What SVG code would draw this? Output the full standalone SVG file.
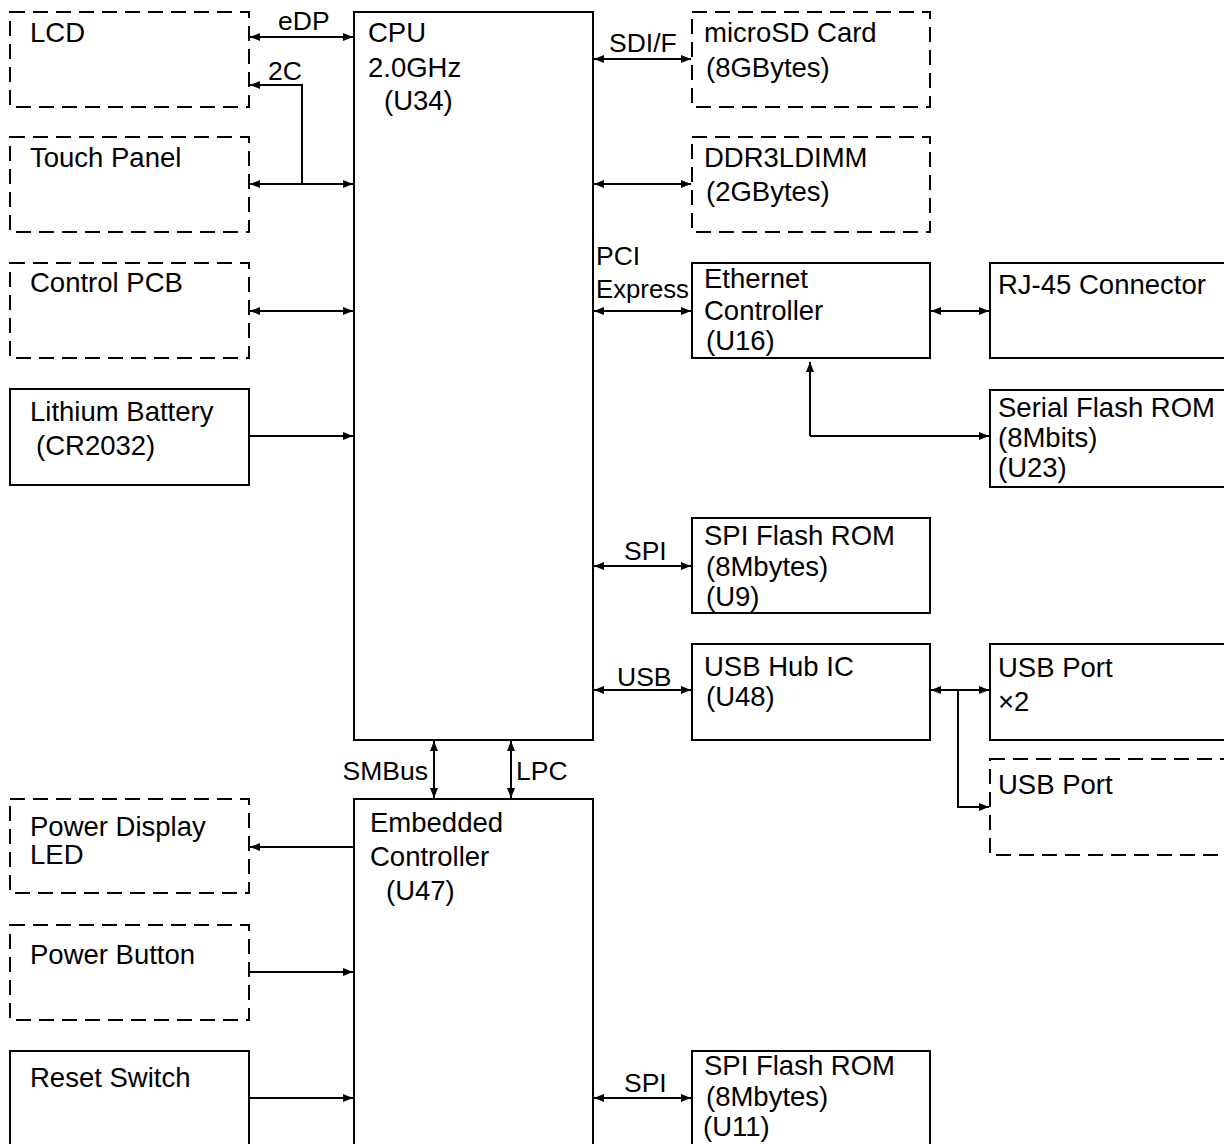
<svg xmlns="http://www.w3.org/2000/svg" width="1224" height="1144" viewBox="0 0 1224 1144">
<style>
text{font-family:"Liberation Sans",Arial,sans-serif;font-size:27.5px;fill:#000}
.lb{font-size:26.5px}
.box{fill:#fff;stroke:#000;stroke-width:2}
.dash{fill:#fff;stroke:#000;stroke-width:2;stroke-dasharray:15 8}
.ln{fill:none;stroke:#000;stroke-width:2}
.bi{marker-start:url(#ah);marker-end:url(#ah)}
.one{marker-end:url(#ah)}
</style>
<defs>
<marker id="ah" markerUnits="userSpaceOnUse" markerWidth="10" markerHeight="8" refX="10" refY="4" orient="auto-start-reverse"><path d="M0,0 L10,4 L0,8 z" fill="#000"/></marker>
</defs>
<rect width="1224" height="1144" fill="#fff"/>
<g id="connectors">
<line class="ln bi" x1="250" y1="37" x2="353" y2="37"/>
<polyline class="ln one" points="302,184 302,85 250,85"/>
<line class="ln bi" x1="250" y1="184" x2="353" y2="184"/>
<line class="ln bi" x1="250" y1="311" x2="353" y2="311"/>
<line class="ln one" x1="249" y1="436" x2="353" y2="436"/>
<line class="ln bi" x1="594" y1="59" x2="691" y2="59"/>
<line class="ln bi" x1="594" y1="184" x2="691" y2="184"/>
<line class="ln bi" x1="594" y1="311" x2="691" y2="311"/>
<line class="ln bi" x1="931" y1="311" x2="989" y2="311"/>
<polyline class="ln one" points="810,436 810,362"/>
<polyline class="ln one" points="810,436 989,436"/>
<line class="ln bi" x1="594" y1="566" x2="691" y2="566"/>
<line class="ln bi" x1="594" y1="690" x2="691" y2="690"/>
<line class="ln bi" x1="931" y1="690" x2="989" y2="690"/>
<polyline class="ln one" points="958,690 958,807 989,807"/>
<line class="ln bi" x1="434" y1="741" x2="434" y2="798"/>
<line class="ln bi" x1="511" y1="741" x2="511" y2="798"/>
<line class="ln one" x1="354" y1="847" x2="250" y2="847"/>
<line class="ln one" x1="249" y1="972" x2="353" y2="972"/>
<line class="ln one" x1="249" y1="1098" x2="353" y2="1098"/>
<line class="ln bi" x1="594" y1="1098" x2="691" y2="1098"/>
<text class="lb" x="278" y="30">eDP</text>
<text class="lb" x="268" y="80">2C</text>
<text class="lb" x="609" y="52">SDI/F</text>
<text class="lb" x="596" y="265">PCI</text>
<text class="lb" x="596" y="298" textLength="93" lengthAdjust="spacingAndGlyphs">Express</text>
<text class="lb" x="624" y="560">SPI</text>
<text class="lb" x="617" y="686">USB</text>
<text class="lb" x="428" y="780" text-anchor="end">SMBus</text>
<text class="lb" x="516" y="780">LPC</text>
<text class="lb" x="624" y="1092">SPI</text>
</g>
<g id="lcd"><rect class="dash" x="10" y="12" width="239" height="95"/><text x="30" y="42">LCD</text></g>
<g id="touch"><rect class="dash" x="10" y="137" width="239" height="95"/><text x="30" y="167">Touch Panel</text></g>
<g id="ctrlpcb"><rect class="dash" x="10" y="263" width="239" height="95"/><text x="30" y="292">Control PCB</text></g>
<g id="battery"><rect class="box" x="10" y="389" width="239" height="96"/><text x="30" y="421">Lithium Battery</text><text x="36" y="455">(CR2032)</text></g>
<g id="cpu"><rect class="box" x="354" y="12" width="239" height="728"/><text x="368" y="42">CPU</text><text x="368" y="77">2.0GHz</text><text x="384" y="110">(U34)</text></g>
<g id="pled"><rect class="dash" x="10" y="799" width="239" height="94"/><text x="30" y="836">Power Display</text><text x="30" y="864">LED</text></g>
<g id="pbtn"><rect class="dash" x="10" y="925" width="239" height="95"/><text x="30" y="964">Power Button</text></g>
<g id="reset"><rect class="box" x="10" y="1051" width="239" height="110"/><text x="30" y="1087">Reset Switch</text></g>
<g id="ec"><rect class="box" x="354" y="799" width="239" height="362"/><text x="370" y="832">Embedded</text><text x="370" y="866">Controller</text><text x="386" y="900">(U47)</text></g>
<g id="microsd"><rect class="dash" x="692" y="12" width="238" height="95"/><text x="704" y="42">microSD Card</text><text x="706" y="77">(8GBytes)</text></g>
<g id="ddr3"><rect class="dash" x="692" y="137" width="238" height="95"/><text x="704" y="167">DDR3LDIMM</text><text x="706" y="201">(2GBytes)</text></g>
<g id="eth"><rect class="box" x="692" y="263" width="238" height="95"/><text x="704" y="288">Ethernet</text><text x="704" y="320">Controller</text><text x="706" y="350">(U16)</text></g>
<g id="spi1"><rect class="box" x="692" y="518" width="238" height="95"/><text x="704" y="545">SPI Flash ROM</text><text x="706" y="576">(8Mbytes)</text><text x="706" y="606">(U9)</text></g>
<g id="usbhub"><rect class="box" x="692" y="644" width="238" height="96"/><text x="704" y="676">USB Hub IC</text><text x="706" y="706">(U48)</text></g>
<g id="spi2"><rect class="box" x="692" y="1051" width="238" height="110"/><text x="704" y="1075">SPI Flash ROM</text><text x="706" y="1106">(8Mbytes)</text><text x="703" y="1136">(U11)</text></g>
<g id="rj45"><rect class="box" x="990" y="263" width="250" height="95"/><text x="998" y="294">RJ-45 Connector</text></g>
<g id="sflash"><rect class="box" x="990" y="390" width="250" height="97"/><text x="998" y="417">Serial Flash ROM</text><text x="998" y="447">(8Mbits)</text><text x="998" y="477">(U23)</text></g>
<g id="usbport2"><rect class="box" x="990" y="644" width="250" height="96"/><text x="998" y="677">USB Port</text><text x="998" y="711">×2</text></g>
<g id="usbport"><rect class="dash" x="990" y="759" width="250" height="96"/><text x="998" y="794">USB Port</text></g>
</svg>
